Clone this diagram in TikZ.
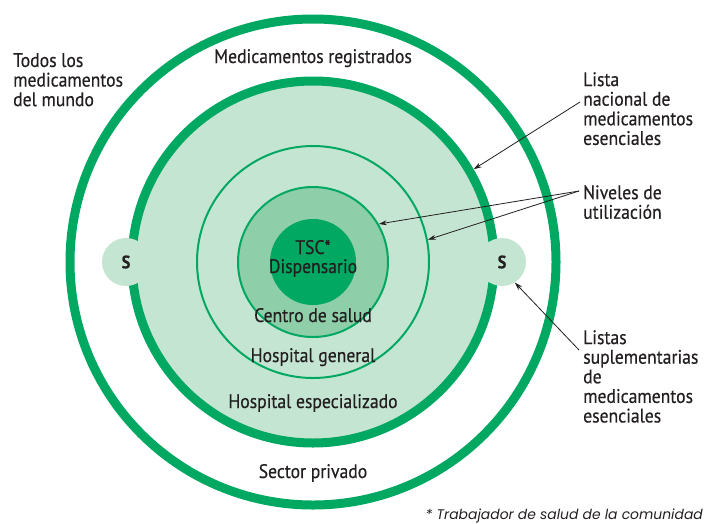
\documentclass[tikz,border=0pt]{standalone}
\usepackage{fontspec}
\setmainfont{PT Sans}[FakeStretch=0.9,FakeBold=0.4]
\newfontfamily\notefont{Poppins}
\usetikzlibrary{arrows.meta}
\definecolor{ringgreen}{RGB}{0,168,98}
\definecolor{palegreen}{RGB}{197,229,211}
\definecolor{midgreen}{RGB}{142,206,168}
\definecolor{inkgray}{RGB}{35,31,32}

\begin{document}
\begin{tikzpicture}[x=1pt,y=-1pt,
        ring/.style={circle,draw=ringgreen,inner sep=0pt},
        sbox/.style={circle,fill=palegreen,inner sep=0pt,minimum size=48pt,font=\fontsize{18}{20}\selectfont\bfseries},
        tag/.style={inner sep=0pt,text=inkgray,anchor=base,font=\fontsize{19.6}{20}\selectfont},
        side/.style={inner sep=0pt,text=inkgray,align=left,anchor=north west,font=\fontsize{19.6}{19.6}\selectfont},
        ptr/.style={-{Stealth[length=8pt,width=5pt]},line width=0.8pt,draw=inkgray}]
    \useasboundingbox (0,0) rectangle (704,523);
    % circles, outside in
    \node[ring,line width=9pt,minimum size=486pt] (mundo) at (313,262) {};
    \node[ring,line width=9pt,fill=palegreen,minimum size=362pt] (nacional) at (313,262) {};
    \node[sbox,text=inkgray] (sL) at (126,262) {S};
    \node[sbox,text=inkgray] (sR) at (502,262) {S};
    \node[ring,line width=2pt,minimum size=232pt] (general) at (313,262) {};
    \node[ring,line width=2pt,fill=midgreen,minimum size=150pt] (centro) at (313,262) {};
    \node[circle,fill=ringgreen,inner sep=0pt,minimum size=86pt] (tsc) at (313,262) {};
    % texts
    \node[tag] (registrados) at (313,63) {Medicamentos registrados};
    \node[tag] (tsctxt) at (313,254) {TSC*};
    \node[tag] (disp) at (313,273) {Dispensario};
    \node[tag] (salud) at (313,322) {Centro de salud};
    \node[tag] (hgen) at (313,362) {Hospital general};
    \node[tag] (hesp) at (313,408) {Hospital especializado};
    \node[tag] (privado) at (313,478) {Sector privado};
    \node[side] (todos) at (13,53) {Todos los\\medicamentos\\del mundo};
    \node[side] (lista) at (583,72) {Lista\\nacional de\\medicamentos\\esenciales};
    \node[side] (niveles) at (583,185) {Niveles de\\utilización};
    \node[side] (listas) at (583,330) {Listas\\suplementarias\\de\\medicamentos\\esenciales};
    \node[inner sep=0pt,anchor=base east,text=inkgray,font=\notefont\itshape\fontsize{13.9}{15}\selectfont] (nota) at (703,519) {* Trabajador de salud de la comunidad};
    % pointers
    \draw[ptr] ([xshift=-3pt,yshift=-30pt]lista.north west) -- (nacional.30);
    \draw[ptr] ([xshift=-4pt,yshift=-6pt]niveles.north west) -- (centro.30);
    \draw[ptr] ([xshift=-4pt,yshift=-6pt]niveles.north west) -- (general.11);
    \draw[ptr] ([xshift=-4pt,yshift=-20pt]listas.north west) -- (sR.-58);
\end{tikzpicture}
\end{document}
